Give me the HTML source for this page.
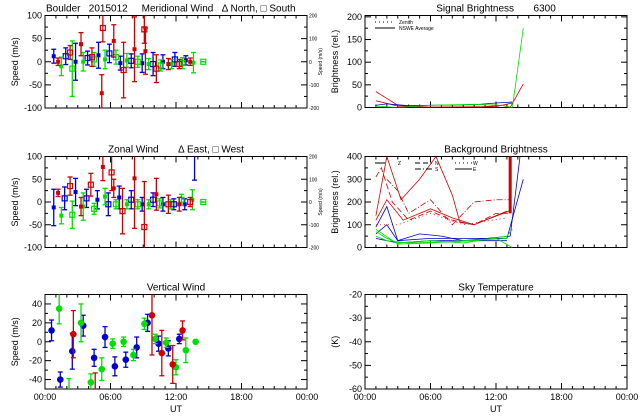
<!DOCTYPE html>
<html><head><meta charset="utf-8"><style>
html,body{margin:0;padding:0;background:#fff;}
svg{display:block;font-family:"Liberation Sans",sans-serif;}
text{font-size:9px;fill:#000;white-space:pre;}
</style></head><body>
<svg id="c" width="640" height="420" viewBox="0 0 640 420" xmlns="http://www.w3.org/2000/svg" xml:space="preserve"></svg>
<script>
// ---- data ----
const merRedH=[1.2,2.3,3.3,4.3,5.2,5.3,6.3,7.2,8.2,9.1,9.2,10.2,11.3,12.3,13.3];
const merRedV=[0,20,38,10,-68,73,45,-18,27,70,23,-15,-5,-5,0];
const merRedE=[8,15,25,20,40,30,35,60,70,30,50,30,12,10,8];
const merBluH=[0.8,1.9,2.8,3.9,4.9,5.9,6.9,7.9,8.9,9.9,10.8,11.9,12.9];
const merBluV=[12,12,0,8,14,18,-3,2,-3,-5,0,5,3];
const merBluE=[15,18,40,15,28,20,15,15,20,25,15,15,10];
const merGrnH=[1.5,2.5,3.5,4.5,5.5,6.5,7.5,8.5,9.5,10.6,11.6,12.6,13.6,14.5];
const merGrnV=[-10,-15,0,5,5,10,3,0,-5,-8,-5,-3,-2,0];
const merGrnE=[20,60,20,15,20,15,15,12,12,12,10,12,22,0];
const zonRedH=[1.2,2.3,3.3,4.2,5.3,6.1,6.3,7.1,8.2,9.1,10.2,11.3,12.3,13.3];
const zonRedV=[20,35,-10,38,77,65,30,-20,52,-55,17,-5,-5,0];
const zonRedE=[8,20,20,25,30,40,20,50,110,100,35,20,15,10];
const zonBluH=[0.8,1.8,2.8,3.8,4.8,5.8,6.8,7.9,8.9,9.9,10.8,11.8,12.8,13.7];
const zonBluV=[-12,8,22,8,5,-5,10,5,-5,5,-5,-5,-5,110];
const zonBluE=[40,25,30,20,20,25,25,20,15,15,15,12,12,62];
const zonGrnH=[1.5,2.5,3.5,4.5,5.5,6.5,7.5,8.5,9.5,10.5,11.5,12.5,13.5,14.5];
const zonGrnV=[-30,-28,-10,-15,12,-5,-5,-5,-5,-3,-5,5,5,0];
const zonGrnE=[18,30,30,12,18,10,10,10,10,10,10,12,22,0];
const verBluH=[0.6,1.4,2.5,3.5,4.5,5.5,6.4,7.4,8.4,9.4,10.4,11.3,12.3];
const verBluV=[12,-40,-10,17,-17,5,-26,-19,-6,20,-2,-7,3];
const verBluE=[11,8,19,11,9,11,10,8,11,9,8,8,5];
const verGrnH=[1.3,2.2,3.3,4.2,5.2,6.2,7.2,8.1,9.1,10.1,11.1,12.0,12.9,13.8];
const verGrnV=[35,-58,20,-43,-29,-2,0,-14,19,3,-1,-27,-9,0];
const verGrnE=[16,19,20,9,12,5,5,6,6,5,5,8,13,0];
const verRedH=[2.6,4.6,9.8,10.7,11.7,12.6];
const verRedV=[8,-60,28,-12,-24,12];
const verRedE=[25,27,42,24,20,10];
const sigLines=[
 {c:'#d00000',h:[1,2,3,5,10,12.5,13.3,14.5],v:[35,20,5,0,0,5,0,52]},
 {c:'#d00000',h:[1,3,6,12,13.5],v:[15,3,1,2,10]},
 {c:'#0000d0',h:[1,2,4,6,10,12,13.5],v:[5,8,4,5,6,10,12]},
 {c:'#00e000',h:[1,3,6,10,12.5,13.5,14.5],v:[3,0,5,7,5,0,175]}];
const bgLines=[
 {c:'#d00000',d:'6,3',h:[1,1.5,2.5,4,6,8,10,12,13.3],v:[310,350,200,120,160,120,100,150,150]},
 {c:'#d00000',d:'',h:[1,2,3.3,5,6.5,8,8.7,10,11,13.2],v:[140,400,210,300,400,230,110,100,120,160]},
 {c:'#d00000',d:'',h:[1,2,3.5,6,8,10,13],v:[120,210,120,170,130,100,160]},
 {c:'#d00000',d:'6,2,1,2',h:[2,3,4,6,8,10,12,13.3],v:[300,250,150,210,100,200,210,210]},
 {c:'#d00000',d:'1,3',h:[1,3,6,9,13],v:[100,100,150,100,130]},
 {c:'#d00000',d:'',h:[13.3,13.3],v:[150,400]},
 {c:'#0000d0',d:'',h:[1,2,3,5,7,9,13.3,14.2],v:[90,180,30,60,50,30,50,400]},
 {c:'#0000d0',d:'',h:[1,2,3,6,13,14.5],v:[60,100,30,40,40,300]},
 {c:'#0000d0',d:'',h:[1,3,6,13],v:[40,20,30,30]},
 {c:'#00e000',d:'',h:[1,2,3,6,9,13,13.5],v:[70,40,20,30,20,50,80]},
 {c:'#00e000',d:'',h:[1,2,4,8,13],v:[50,30,20,25,40]},
 {c:'#00e000',d:'',h:[1,3,6,12,13.5],v:[80,15,20,40,0]}];
const xTickLabels=['00:00','06:00','12:00','18:00','00:00'];
const speed100Ticks=[-100,-50,0,50,100];
const rightSpeedTicks=['-200','-100','0','100','200'];
const verTicks=[-40,-20,0,20,40];
const sigTicks=[0,50,100,150,200];
const bgTicks=[0,100,200,300,400];
const skyTicks=[-60,-50,-40,-30,-20];

const svg=document.getElementById('c');
const NS='http://www.w3.org/2000/svg';
function mk(tag,attrs,parent){const e=document.createElementNS(NS,tag);for(const k in attrs)e.setAttribute(k,attrs[k]);(parent||svg).appendChild(e);return e;}
function txt(x,y,s,anchor,size,rot){const t=mk('text',{x:x,y:y,'text-anchor':anchor||'middle'});if(size)t.style.fontSize=size+'px';if(rot)t.setAttribute('transform','rotate(-90 '+x+' '+y+')');t.textContent=s;return t;}

function panel(name,x0,x1,y0,y1,ymin,ymax,yticks,ylabel,title,opts){
 const g=mk('g',{});
 
 
 const sx=h=>x0+(h/24)*(x1-x0);
 const sy=v=>y1-(v-ymin)/(ymax-ymin)*(y1-y0);
 const box=mk('rect',{x:x0,y:y0,width:x1-x0,height:y1-y0,fill:'none',stroke:'#000','stroke-width':1},g);
 
 
 for(let h=0;h<=24;h++){const L=h%6===0?6:3;
  mk('line',{x1:sx(h),x2:sx(h),y1:y1,y2:y1-L,stroke:'#000'},g);
  mk('line',{x1:sx(h),x2:sx(h),y1:y0,y2:y0+L,stroke:'#000'},g);}
 yticks.forEach((v,i)=>{const y=sy(v);
  mk('line',{x1:x0,x2:x0+6,y1:y,y2:y,stroke:'#000'},g);
  mk('line',{x1:x1,x2:x1-6,y1:y,y2:y,stroke:'#000'},g);
  const t=txt(x0-3,y+3,String(v),'end');
  
  
  if(i<yticks.length-1){const ym=sy((v+yticks[i+1])/2);
   mk('line',{x1:x0,x2:x0+3,y1:ym,y2:ym,stroke:'#000'},g);
   mk('line',{x1:x1,x2:x1-3,y1:ym,y2:ym,stroke:'#000'},g);}});
 const yl=txt(x0-27,(y0+y1)/2,ylabel,'middle',9,true);
 
 
 const tt=txt(opts&&opts.tx!==undefined?opts.tx:(x0+x1)/2,y0-4,title,opts&&opts.ta?opts.ta:'middle',10);
 
 
 if(opts&&opts.xlab){xTickLabels.forEach((s,i)=>{const t=txt(sx(i*6),y1+11,s);
   
   });
  const u=txt((x0+x1)/2,y1+23,'UT');
  
  }
 if(opts&&opts.right){rightSpeedTicks.forEach((s,i)=>{const t=txt(x1+2,sy(yticks[i])+2,s,'start',5);
   
   });
  const r=txt(x1+15,(y0+y1)/2,'Speed (m/s)','middle',5,true);
  
  }
 const cid='clip'+name;
 const cp=mk('clipPath',{id:cid},svg);mk('rect',{x:x0,y:y0,width:x1-x0,height:y1-y0},cp);
 const dg=mk('g',{'clip-path':'url(#'+cid+')'},g);
 return {sx,sy,g:dg};
}
function errSeries(p,H,V,E,color,mark,name){
 H.forEach((h,i)=>{const x=p.sx(h),y=p.sy(V[i]);
  const e1=p.sy(V[i]+E[i]),e2=p.sy(V[i]-E[i]);
  const b=mk('line',{x1:x,x2:x,y1:e1,y2:e2,stroke:color,'stroke-width':1.3},p.g);
  
  
  mk('line',{x1:x-2.5,x2:x+2.5,y1:e1,y2:e1,stroke:color,'stroke-width':1.3},p.g);
  mk('line',{x1:x-2.5,x2:x+2.5,y1:e2,y2:e2,stroke:color,'stroke-width':1.3},p.g);
  let m;
  if(mark==='dot'){m=mk('circle',{cx:x,cy:y,r:3.3,fill:color},p.g);}
  else if(i%2){m=mk('rect',{x:x-2.5,y:y-2.5,width:5,height:5,fill:'none',stroke:color,'stroke-width':1.2},p.g);}
  else{m=mk('rect',{x:x-2,y:y-2,width:4,height:4,fill:color},p.g);}
  
  });
}
function lines(p,L,name){L.forEach(s=>{const pts=s.h.map((h,i)=>p.sx(h)+','+p.sy(s.v[i])).join(' ');
  const pl=mk('polyline',{points:pts,fill:'none',stroke:s.c,'stroke-width':s.h.length===2?3:0.8},p.g);
  if(s.d)pl.setAttribute('stroke-dasharray',s.d);
  
  });}

const p1=panel('meridional-panel',45,307,15.5,108,-100,100,speed100Ticks,'Speed (m/s)','Boulder   2015012     Meridional Wind   \u0394 North, \u25a1 South',{right:true,tx:46,ta:'start'});
errSeries(p1,merBluH,merBluV,merBluE,'#0000d0','sq','meridional-blue');
errSeries(p1,merGrnH,merGrnV,merGrnE,'#00e000','sq','meridional-green');
errSeries(p1,merRedH,merRedV,merRedE,'#d00000','sq','meridional-red');
const p2=panel('zonal-panel',45,307,156.5,247.5,-100,100,speed100Ticks,'Speed (m/s)','Zonal Wind       \u0394 East, \u25a1 West',{right:true});
errSeries(p2,zonBluH,zonBluV,zonBluE,'#0000d0','sq','zonal-blue');
errSeries(p2,zonGrnH,zonGrnV,zonGrnE,'#00e000','sq','zonal-green');
errSeries(p2,zonRedH,zonRedV,zonRedE,'#d00000','sq','zonal-red');
const p3=panel('vertical-panel',45,307,294.5,389,-50,50,verTicks,'Speed (m/s)','Vertical Wind',{xlab:true});
errSeries(p3,verBluH,verBluV,verBluE,'#0000d0','dot','vertical-blue');
errSeries(p3,verGrnH,verGrnV,verGrnE,'#00e000','dot','vertical-green');
errSeries(p3,verRedH,verRedV,verRedE,'#d00000','dot','vertical-red');
const p4=panel('signal-panel',365,627,15.5,107.5,0,203,sigTicks,'Brightness (rel.)','Signal Brightness       6300',{});
lines(p4,sigLines,'signal-line');
const p5=panel('background-panel',365,627,156.5,247.5,0,400,bgTicks,'Brightness (rel.)','Background Brightness',{});
lines(p5,bgLines,'background-line');
const p6=panel('sky-temp-panel',365,627,294.5,389,-60,-20,skyTicks,'(K)','Sky Temperature',{xlab:true});
// legends
const lg=mk('g',{});


mk('line',{x1:375,x2:395,y1:22,y2:22,stroke:'#000','stroke-dasharray':'1,3'},lg);
mk('line',{x1:375,x2:395,y1:28,y2:28,stroke:'#000'},lg);
txt(399,24,'Zenith','start',5);txt(399,30,'NSWE Average','start',5);
const lb=mk('g',{});


mk('line',{x1:375,x2:385,y1:163,y2:163,stroke:'#000'},lb);txt(398,165,'Z','start',5);
mk('line',{x1:415,x2:432,y1:163,y2:163,stroke:'#000','stroke-dasharray':'5,3'},lb);txt(435,165,'N','start',5);
mk('line',{x1:415,x2:432,y1:169,y2:169,stroke:'#000','stroke-dasharray':'6,2,1,2'},lb);txt(435,171,'S','start',5);
mk('line',{x1:455,x2:472,y1:163,y2:163,stroke:'#000','stroke-dasharray':'1,3'},lb);txt(473,165,'W','start',5);
mk('line',{x1:455,x2:472,y1:169,y2:169,stroke:'#000'},lb);txt(473,171,'E','start',5);
</script>
</body></html>
